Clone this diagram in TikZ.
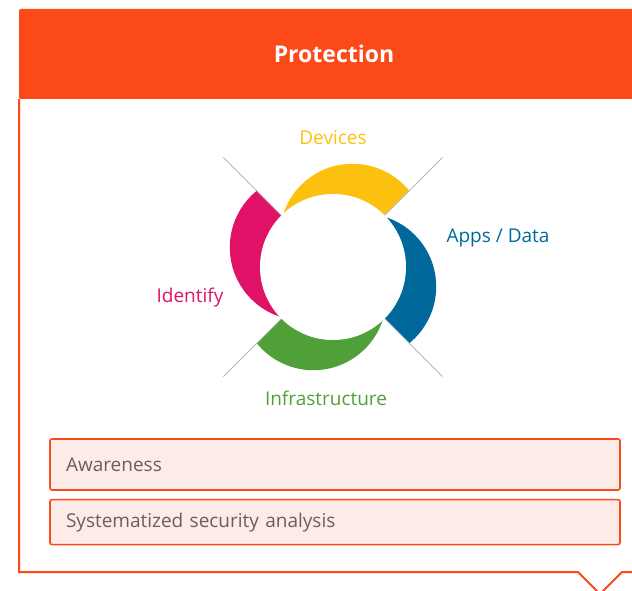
\documentclass[tikz,border=0pt]{standalone}
\usepackage{fontspec}
\setmainfont{Open Sans}
\usetikzlibrary{positioning}
\definecolor{protorange}{RGB}{252,73,26}
\definecolor{devcol}{RGB}{251,193,14}
\definecolor{appcol}{RGB}{0,104,155}
\definecolor{infcol}{RGB}{80,160,58}
\definecolor{idcol}{RGB}{223,18,103}
\definecolor{itemfill}{RGB}{253,235,231}
\definecolor{itemtext}{RGB}{105,95,90}
\definecolor{guidegray}{RGB}{185,185,185}
\tikzset{
  tag/.style={text=#1, font=\fontsize{19}{22}\selectfont},
  item/.style={draw=protorange, line width=1.6pt, fill=itemfill, rounded corners=2pt,
    minimum width=570pt, text width=538pt, inner xsep=16pt, align=left,
    text=itemtext, font=\fontsize{19}{22}\selectfont},
  guide/.style={draw=guidegray, line width=0.8pt}
}

\begin{document}
\begin{tikzpicture}[x=1pt,y=1pt]
    \useasboundingbox (0,0) rectangle (632,590);
    \fill[protorange, rounded corners=2pt] (19,491) -- (19,581) -- (660,581) -- (660,491) -- cycle;
    \node[text=white, font=\bfseries\fontsize{23}{26}\selectfont] (head) at (334,536) {Protection};
    \draw[protorange, line width=2pt] (19,491) |- (578,18) -- (600,-4) -- (622,18) -- (660,18);
    \coordinate (hub) at (333,323);
    \foreach \s/\col in {45/devcol,-45/appcol,-135/infcol,135/idcol}{
        \begin{scope}
            \clip (hub) -- +(\s:220) -- +(\s+45:311) -- +(\s+90:220) -- cycle;
            \fill[\col] (hub) ++(\s+12:36) circle[radius=73];
        \end{scope}
    }
    \draw[guide] (hub) +(45:155) -- +(-135:155);
    \draw[guide] (hub) +(135:155) -- +(-45:155);
    \fill[white] (hub) circle[radius=73];
    \node[tag=devcol] (dev) at (333,452) {Devices};
    \node[tag=appcol] (apps) at (498,352) {Apps / Data};
    \node[tag=idcol] (ident) at (190,292) {Identify};
    \node[tag=infcol] (infra) at (326,192) {Infrastructure};
    \node[item, minimum height=51pt] (aware) at (335,125.5) {Awareness};
    \node[item, minimum height=45pt, below=8pt of aware] (analysis) {Systematized security analysis};
\end{tikzpicture}
\end{document}
